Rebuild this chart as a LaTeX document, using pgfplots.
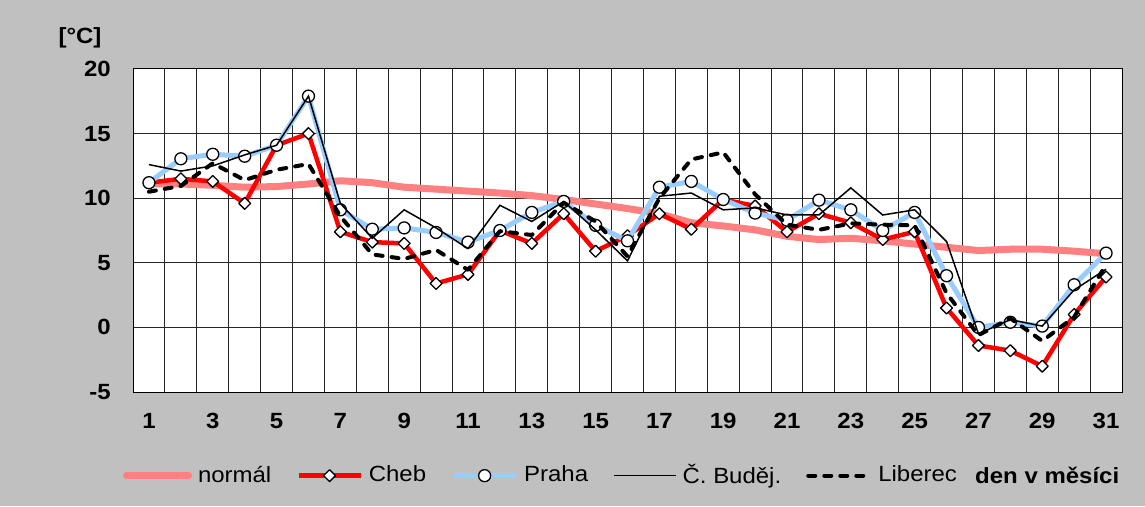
\documentclass[border=0pt]{standalone}
\usepackage{fontspec}
\setmainfont{Liberation Sans}[FakeStretch=1.09]
\usepackage{pgfplots}
\pgfplotsset{compat=1.18}
\definecolor{bg}{HTML}{C0C0C0}
\definecolor{normc}{HTML}{FF8080}
\definecolor{prahac}{HTML}{99CCFF}
\begin{document}
\fontsize{22}{26}\selectfont
\begin{tikzpicture}[x=1pt,y=1pt]
\fill[bg] (0,0) rectangle (1145,506);
\begin{axis}[
  at={(133pt,114pt)}, anchor=south west,
  width=989pt, height=323pt, scale only axis,
  xmin=0.5, xmax=31.5, ymin=-5, ymax=20,
  xtick={1,3,...,31}, ytick={-5,0,...,20},
  minor xtick={1.5,2.5,...,30.5},
  xminorgrids=true, ymajorgrids=true, xmajorgrids=false,
  major tick length=0pt, minor tick length=0pt,
  major grid style={black!85, line width=1pt},
  minor grid style={black!85, line width=1pt},
  axis line style={black, line width=1pt},
  axis background/.style={fill=white},
  /pgf/number format/assume math mode=true,
  tick label style={font=\fontsize{22}{26}\selectfont\bfseries},
  yticklabel style={anchor=east, inner sep=0pt, xshift=-22pt},
  xticklabel style={anchor=north, inner sep=0pt, yshift=-21pt},
  clip mode=individual,
  legend columns=-1,
  legend cell align=left,
  legend style={
    at={(axis description cs:-0.0101,-0.259)}, anchor=west,
    draw=none, fill=none, inner sep=0pt, outer sep=0pt,
    nodes={inner sep=0pt},
    /tikz/every odd column/.style={column sep=6pt},
    /tikz/every even column/.style={column sep=25pt},
    font=\fontsize{22}{26}\selectfont,
  },
  legend image code/.code={\draw[mark repeat=2,mark phase=2,#1] plot coordinates {(0pt,0pt) (31pt,0pt) (62pt,0pt)};},
]
\addplot[normc, line width=7pt, line join=round, line cap=round] coordinates {
(1,11.1) (2,11.1) (3,11.0) (4,10.85) (5,10.9) (6,11.1) (7,11.35) (8,11.2) (9,10.85) (10,10.7)
(11,10.55) (12,10.4) (13,10.2) (14,9.9) (15,9.55) (16,9.2) (17,8.8) (18,8.1) (19,7.85) (20,7.55)
(21,7.05) (22,6.8) (23,6.9) (24,6.7) (25,6.45) (26,6.2) (27,5.95) (28,6.05) (29,6.05) (30,5.9) (31,5.7)};
\addlegendentry{normál}
\addplot[red, line width=4.5pt, line join=round, mark=square*, mark size=4.2pt,
  mark options={rotate=45, fill=white, draw=black, line width=1.3pt, solid}] coordinates {
(1,11.2) (2,11.5) (3,11.3) (4,9.6) (5,14.1) (6,15.0) (7,7.4) (8,6.6) (9,6.5) (10,3.4)
(11,4.1) (12,7.5) (13,6.5) (14,8.8) (15,5.9) (16,7.1) (17,8.8) (18,7.6) (19,9.9) (20,9.4)
(21,7.4) (22,8.8) (23,8.1) (24,6.8) (25,7.4) (26,1.5) (27,-1.4) (28,-1.8) (29,-3.0) (30,1.0) (31,3.9)};
\addlegendentry{Cheb}
\addplot[prahac, line width=5pt, line join=round, mark=*, mark size=6pt,
  mark options={fill=white, draw=black, line width=1.3pt, solid}] coordinates {
(1,11.2) (2,13.05) (3,13.4) (4,13.25) (5,14.1) (6,17.9) (7,9.1) (8,7.6) (9,7.7) (10,7.35)
(11,6.6) (12,7.5) (13,8.9) (14,9.75) (15,7.9) (16,6.7) (17,10.85) (18,11.3) (19,9.9) (20,8.85)
(21,8.3) (22,9.85) (23,9.1) (24,7.5) (25,8.9) (26,4.0) (27,0.0) (28,0.4) (29,0.1) (30,3.3) (31,5.75)};
\addlegendentry{Praha}
\addplot[black, line width=1.5pt] coordinates {
(1,12.6) (2,12.1) (3,12.5) (4,13.35) (5,14.1) (6,17.9) (7,9.6) (8,6.9) (9,9.1) (10,7.7)
(11,6.1) (12,9.45) (13,8.2) (14,9.75) (15,7.55) (16,5.15) (17,10.15) (18,10.4) (19,9.1) (20,9.25)
(21,8.7) (22,8.7) (23,10.8) (24,8.7) (25,9.1) (26,6.65) (27,-0.5) (28,0.6) (29,0.1) (30,2.9) (31,4.5)};
\addlegendentry{Č. Buděj.}
\addplot[black, line width=4pt, dash pattern=on 7pt off 9pt, line cap=round, line join=round] coordinates {
(1,10.5) (2,10.95) (3,12.7) (4,11.4) (5,12.2) (6,12.65) (7,8.6) (8,5.65) (9,5.3) (10,6.0)
(11,4.45) (12,7.45) (13,7.15) (14,9.65) (15,8.2) (16,5.5) (17,10.0) (18,13.0) (19,13.55) (20,10.3)
(21,7.95) (22,7.55) (23,8.05) (24,7.95) (25,7.9) (26,2.65) (27,-0.6) (28,0.7) (29,-1.05) (30,0.8) (31,4.85)};
\addlegendentry{Liberec}
\node[font=\fontsize{22}{26}\selectfont\bfseries, inner sep=0pt] at (axis description cs:-0.0536,1.096) {[°C]};
\node[font=\fontsize{22}{26}\selectfont\bfseries, inner sep=0pt, anchor=west] at (axis description cs:0.8514,-0.259) {den v měsíci};
\end{axis}
\end{tikzpicture}
\end{document}
